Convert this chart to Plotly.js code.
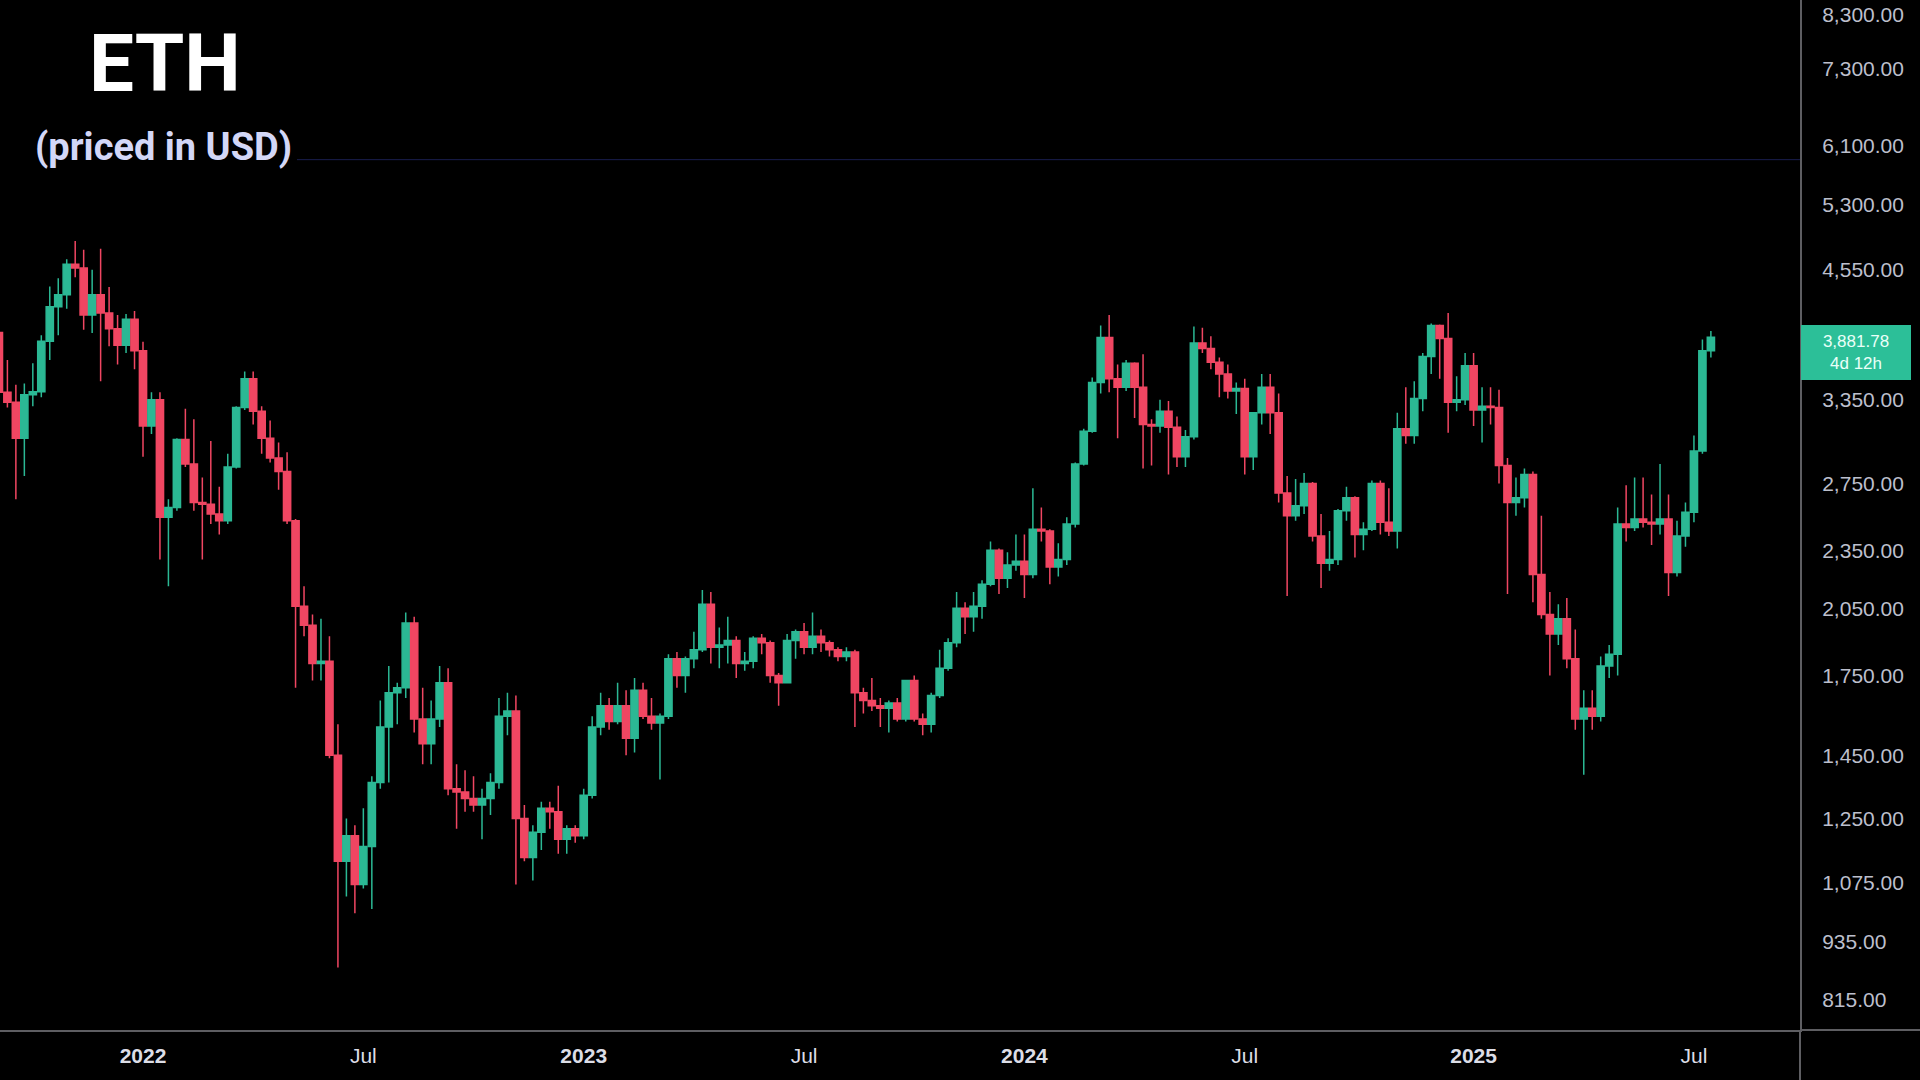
<!DOCTYPE html>
<html>
<head>
<meta charset="utf-8">
<script src="https://cdn.plot.ly/plotly-3.0.1.min.js"></script>
<style>
  html, body { margin: 0; padding: 0; background: #000; }
  #chart { width: 1920px; height: 1080px; }
</style>
</head>
<body>
<div id="chart"></div>
<script>
// Weekly ETH/USD candles (week start, Monday)
const weeks = [
  // 2021
  '2021-09-06','2021-09-13','2021-09-20','2021-09-27','2021-10-04','2021-10-11','2021-10-18','2021-10-25',
  '2021-11-01','2021-11-08','2021-11-15','2021-11-22','2021-11-29','2021-12-06','2021-12-13','2021-12-20','2021-12-27',
  // 2022
  '2022-01-03','2022-01-10','2022-01-17','2022-01-24','2022-01-31','2022-02-07','2022-02-14','2022-02-21','2022-02-28',
  '2022-03-07','2022-03-14','2022-03-21','2022-03-28','2022-04-04','2022-04-11','2022-04-18','2022-04-25','2022-05-02',
  '2022-05-09','2022-05-16','2022-05-23','2022-05-30','2022-06-06','2022-06-13','2022-06-20','2022-06-27','2022-07-04',
  '2022-07-11','2022-07-18','2022-07-25','2022-08-01','2022-08-08','2022-08-15','2022-08-22','2022-08-29','2022-09-05',
  '2022-09-12','2022-09-19','2022-09-26','2022-10-03','2022-10-10','2022-10-17','2022-10-24','2022-10-31','2022-11-07',
  '2022-11-14','2022-11-21','2022-11-28','2022-12-05','2022-12-12','2022-12-19','2022-12-26',
  // 2023
  '2023-01-02','2023-01-09','2023-01-16','2023-01-23','2023-01-30','2023-02-06','2023-02-13','2023-02-20','2023-02-27',
  '2023-03-06','2023-03-13','2023-03-20','2023-03-27','2023-04-03','2023-04-10','2023-04-17','2023-04-24','2023-05-01',
  '2023-05-08','2023-05-15','2023-05-22','2023-05-29','2023-06-05','2023-06-12','2023-06-19','2023-06-26','2023-07-03',
  '2023-07-10','2023-07-17','2023-07-24','2023-07-31','2023-08-07','2023-08-14','2023-08-21','2023-08-28','2023-09-04',
  '2023-09-11','2023-09-18','2023-09-25','2023-10-02','2023-10-09','2023-10-16','2023-10-23','2023-10-30','2023-11-06',
  '2023-11-13','2023-11-20','2023-11-27','2023-12-04','2023-12-11','2023-12-18','2023-12-25',
  // 2024
  '2024-01-01','2024-01-08','2024-01-15','2024-01-22','2024-01-29','2024-02-05','2024-02-12','2024-02-19','2024-02-26',
  '2024-03-04','2024-03-11','2024-03-18','2024-03-25','2024-04-01','2024-04-08','2024-04-15','2024-04-22','2024-04-29',
  '2024-05-06','2024-05-13','2024-05-20','2024-05-27','2024-06-03','2024-06-10','2024-06-17','2024-06-24','2024-07-01',
  '2024-07-08','2024-07-15','2024-07-22','2024-07-29','2024-08-05','2024-08-12','2024-08-19','2024-08-26','2024-09-02',
  '2024-09-09','2024-09-16','2024-09-23','2024-09-30','2024-10-07','2024-10-14','2024-10-21','2024-10-28','2024-11-04',
  '2024-11-11','2024-11-18','2024-11-25','2024-12-02','2024-12-09','2024-12-16','2024-12-23','2024-12-30',
  // 2025
  '2025-01-06','2025-01-13','2025-01-20','2025-01-27','2025-02-03','2025-02-10','2025-02-17','2025-02-24','2025-03-03',
  '2025-03-10','2025-03-17','2025-03-24','2025-03-31','2025-04-07','2025-04-14','2025-04-21','2025-04-28','2025-05-05',
  '2025-05-12','2025-05-19','2025-05-26','2025-06-02','2025-06-09','2025-06-16','2025-06-23','2025-06-30','2025-07-07',
  '2025-07-14','2025-07-21'
];

const open = [
  3926,3410,3330,3060,3390,3415,3845,4170,4290,4610,4570,4090,4290,4110,3960,3810,4050,
  3760,3150,3350,2540,2600,3050,2880,2630,2620,2560,2520,2860,3290,3520,3260,3060,2920,2830,2520,2060,1970,1800,1810,1450,
  1130,1200,1070,1170,1360,1550,1680,1700,1980,1580,1490,1580,1720,1340,1330,1310,1290,1310,1360,1590,1610,1250,1140,1210,
  1280,1270,1190,1220,
  1200,1320,1550,1630,1570,1630,1510,1690,1590,1565,1590,1820,1750,1820,1860,2070,1870,1880,1900,1800,1810,1910,1890,1750,
  1720,1900,1940,1870,1920,1890,1860,1830,1850,1680,1650,1630,1620,1640,1580,1730,1580,1560,1670,1780,1890,2050,2010,2060,
  2170,2350,2200,2270,
  2290,2220,2470,2460,2260,2300,2500,2880,3110,3490,3880,3520,3450,3650,3450,3160,3150,3260,3140,2930,3070,3830,3780,3660,
  3560,3420,3440,2930,3250,3450,3250,2690,2550,2610,2750,2430,2280,2300,2580,2660,2440,2470,2750,2510,2460,3130,3080,3360,
  3710,3990,3870,3330,3350,
  3630,3270,3300,3290,2870,2630,2660,2810,2220,2020,1930,2000,1820,1580,1620,1590,1790,1840,2500,2480,2530,2510,2500,2530,
  2230,2430,2570,2970,3760
];

const high = [
  4030,3680,3470,3480,3650,3900,4375,4460,4665,4870,4770,4550,4780,4370,4090,4100,4130,
  3840,3410,3410,2650,3060,3280,3200,2790,3040,2730,2950,3300,3580,3580,3300,3190,3030,2960,2530,2160,2020,2000,1920,1560,
  1250,1230,1280,1380,1650,1790,1720,2030,2010,1700,1650,1790,1780,1420,1400,1380,1340,1390,1660,1680,1670,1290,1230,1300,
  1300,1350,1230,1230,
  1340,1590,1680,1660,1720,1690,1740,1720,1660,1600,1840,1850,1830,1940,2140,2130,1960,2010,1920,1850,1920,1930,1900,1760,
  1930,1950,1980,2030,1950,1900,1870,1870,1860,1700,1740,1660,1650,1660,1730,1750,1600,1680,1860,1910,2130,2080,2130,2190,
  2400,2360,2340,2440,
  2440,2720,2600,2470,2390,2540,2890,3130,3530,3990,4090,3640,3680,3660,3730,3200,3350,3340,3220,3120,3980,3970,3890,3700,
  3640,3490,3520,3250,3560,3560,3400,2800,2780,2820,2760,2560,2460,2590,2730,2670,2510,2770,2770,2720,3250,3450,3500,3740,
  4010,4000,4110,3540,3740,
  3740,3450,3450,3430,2920,2790,2850,2830,2550,2130,2070,2100,1950,1690,1690,1830,1880,2600,2740,2790,2790,2680,2880,2680,
  2520,2630,3080,3860,3940
];

const low = [
  3030,3290,2650,2800,3300,3370,3680,3900,4150,4470,3950,3920,3500,3800,3640,3740,3600,
  2930,3090,2300,2160,2580,2860,2580,2300,2500,2440,2500,2850,3270,3160,2950,2890,2710,2500,1700,1920,1730,1730,1440,880,
  1040,1000,1060,1010,1340,1360,1560,1660,1530,1420,1420,1550,1320,1220,1270,1270,1190,1260,1340,1520,1070,1130,1080,1160,
  1220,1150,1150,1180,
  1190,1310,1520,1540,1560,1450,1460,1580,1540,1370,1580,1700,1680,1780,1850,1800,1780,1800,1740,1770,1780,1840,1720,1630,
  1720,1820,1840,1840,1850,1830,1810,1810,1550,1600,1610,1550,1530,1570,1570,1570,1520,1530,1660,1770,1870,1930,1940,2000,
  2160,2120,2150,2240,
  2100,2200,2400,2170,2210,2270,2480,2870,3100,3400,3410,3060,3420,3210,2850,2870,3100,2810,2860,2860,3050,3740,3600,3370,
  3360,3240,2810,2840,3160,3090,2630,2110,2520,2560,2400,2150,2240,2270,2520,2310,2350,2460,2440,2430,2360,3020,3020,3260,
  3560,3520,3100,3260,3310,
  3150,3030,3160,2750,2120,2550,2600,2080,2000,1750,1880,1780,1540,1385,1540,1570,1740,1750,2400,2460,2480,2380,2440,2110,
  2210,2370,2510,2950,3700
];

const close = [
  3410,3330,3060,3390,3415,3845,4170,4290,4610,4570,4090,4290,4110,3960,3810,4050,3760,
  3150,3350,2540,2600,3050,2880,2630,2620,2560,2520,2860,3290,3520,3260,3060,2920,2830,2520,2060,1970,1800,1810,1450,1130,
  1200,1070,1170,1360,1550,1680,1700,1980,1580,1490,1580,1720,1340,1330,1310,1290,1310,1360,1590,1610,1250,1140,1210,1280,
  1270,1190,1220,1200,
  1320,1550,1630,1570,1630,1510,1690,1590,1565,1590,1820,1750,1820,1860,2070,1870,1880,1900,1800,1810,1910,1890,1750,1720,
  1900,1940,1870,1920,1890,1860,1830,1850,1680,1650,1630,1620,1640,1580,1730,1580,1560,1670,1780,1890,2050,2010,2060,2170,
  2350,2200,2270,2290,
  2220,2470,2460,2260,2300,2500,2880,3110,3490,3880,3520,3450,3650,3450,3160,3150,3260,3140,2930,3070,3830,3780,3660,3560,
  3420,3440,2930,3250,3450,3250,2690,2550,2610,2750,2430,2280,2300,2580,2660,2440,2470,2750,2510,2460,3130,3080,3360,3710,
  3990,3870,3330,3350,3630,
  3270,3300,3290,2870,2630,2660,2810,2220,2020,1930,2000,1820,1580,1620,1590,1790,1840,2500,2480,2530,2510,2500,2530,2230,
  2430,2570,2970,3760,3881.78
];

// Axis ticks
const priceTicks = [815, 935, 1075, 1250, 1450, 1750, 2050, 2350, 2750, 3350, 4550, 5300, 6100, 7300, 8300];
const priceTickText = ['815.00','935.00','1,075.00','1,250.00','1,450.00','1,750.00','2,050.00','2,350.00',
                       '2,750.00','3,350.00','4,550.00','5,300.00','6,100.00','7,300.00','8,300.00'];
const dateTicks = ['2022-01-03','2022-07-04','2023-01-02','2023-07-03','2024-01-01','2024-07-01','2025-01-06','2025-07-07'];
const dateTickText = ['<b>2022</b>','Jul','<b>2023</b>','Jul','<b>2024</b>','Jul','<b>2025</b>','Jul'];

const lastPriceText = '3,881.78';
const countdownText = '4d 12h';

const UP = '#2bb894';
const DOWN = '#f04662';

const trace = {
  type: 'candlestick',
  x: weeks, open: open, high: high, low: low, close: close,
  increasing: { line: { color: UP, width: 1.5 }, fillcolor: UP },
  decreasing: { line: { color: DOWN, width: 1.5 }, fillcolor: DOWN },
  whiskerwidth: 0,
  hoverinfo: 'skip',
  showlegend: false
};

const lastClose = close[close.length - 1];

const layout = {
  width: 1920, height: 1080,
  paper_bgcolor: '#000000', plot_bgcolor: '#000000',
  margin: { l: 0, r: 120, t: 0, b: 50 },
  showlegend: false,
  boxmode: 'overlay',
  boxgap: 0.15,
  boxgroupgap: 0,
  font: { family: 'Liberation Sans, Arial, sans-serif' },
  xaxis: {
    type: 'date',
    range: ['2021-09-06 21:21', '2025-10-02 14:24'],
    rangeslider: { visible: false },
    showgrid: false, zeroline: false,
    showline: true, linecolor: '#5e5e62', linewidth: 2,
    tickmode: 'array', tickvals: dateTicks, ticktext: dateTickText,
    ticks: '', ticklabelstandoff: 6,
    tickfont: { color: '#dcdde6', size: 21, family: 'Liberation Sans, Arial, sans-serif' },
    fixedrange: true
  },
  yaxis: {
    type: 'log', side: 'right',
    range: [Math.log10(759.4), Math.log10(8589)],
    showgrid: false, zeroline: false,
    showline: true, linecolor: '#5e5e62', linewidth: 2,
    tickmode: 'array', tickvals: priceTicks, ticktext: priceTickText,
    ticks: '', ticklabelstandoff: 16,
    tickfont: { color: '#bcbfcc', size: 21, family: 'Liberation Sans, Arial, sans-serif' },
    fixedrange: true
  },
  shapes: [
    // extend bottom axis line under the price scale
    { type: 'line', xref: 'paper', yref: 'paper', x0: 1, x1: 1.07, y0: 0, y1: 0,
      line: { color: '#5e5e62', width: 2 } },
    // extend price-scale divider down through the time scale
    { type: 'line', xref: 'paper', yref: 'paper', x0: 1, x1: 1, y0: 0, y1: -0.05,
      line: { color: '#5e5e62', width: 2 } },
    // faint horizontal guide line
    { type: 'line', xref: 'paper', yref: 'paper', x0: 0.165, x1: 1, y0: 0.845, y1: 0.845,
      line: { color: 'rgba(45,55,140,0.55)', width: 1 } }
  ],
  annotations: [
    { xref: 'paper', yref: 'paper', x: 0.0917, y: 0.938, xanchor: 'center', yanchor: 'middle',
      text: '<b>ETH</b>', showarrow: false,
      font: { family: 'Roboto, Lato, sans-serif', size: 80, color: '#ffffff' } },
    { xref: 'paper', yref: 'paper', x: 0.0911, y: 0.857, xanchor: 'center', yanchor: 'middle',
      text: '<b>(priced in USD)</b>', showarrow: false,
      font: { family: 'Roboto, Lato, sans-serif', size: 38, color: '#d3d7f7' } },
    { xref: 'paper', yref: 'y', x: 1, xanchor: 'left', xshift: 1,
      y: Math.log10(lastClose), yanchor: 'middle', yshift: -15,
      text: lastPriceText + '<br>' + countdownText, showarrow: false,
      align: 'center', width: 96, borderpad: 6,
      bgcolor: '#2cbf98', bordercolor: '#2cbf98',
      font: { family: 'Liberation Sans, Arial, sans-serif', size: 17, color: '#eafff8' } }
  ]
};

Plotly.newPlot('chart', [trace], layout, { displayModeBar: false, staticPlot: true });
</script>
</body>
</html>
